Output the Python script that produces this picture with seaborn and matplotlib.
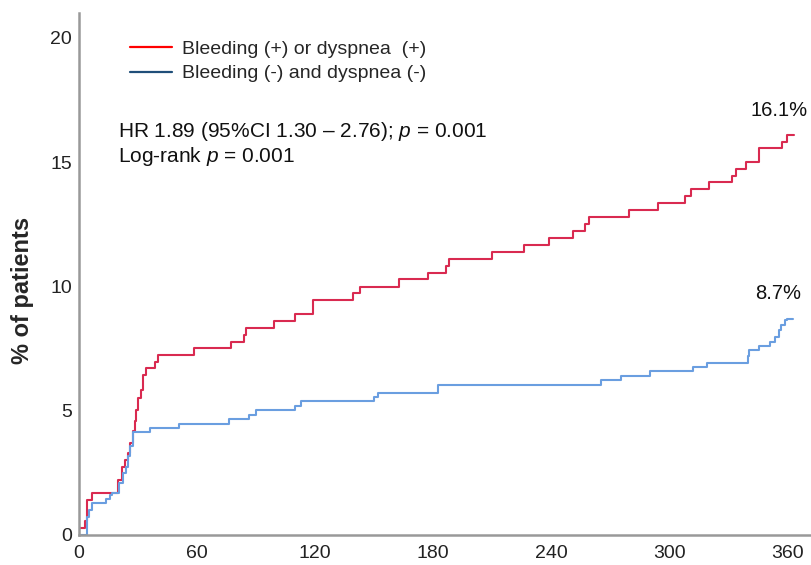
import pandas as pd
import matplotlib.pyplot as plt
import seaborn as sns
from matplotlib.lines import Line2D

sns.set_theme(style="white")
plt.rcParams['font.family'] = ['Liberation Sans', 'DejaVu Sans']
plt.rcParams['mathtext.fontset'] = 'custom'
plt.rcParams['mathtext.rm'] = 'Liberation Sans'
plt.rcParams['mathtext.it'] = 'Liberation Sans:italic'

# cumulative incidence curves (days, %)
red_days = [0, 3, 4.2, 6.8, 19.6, 21.7, 23.4, 24.8, 26, 27.6, 28.4, 29, 29.8, 31.5,
            32.6, 34.3, 38.6, 40, 58.5, 77.5, 84, 85, 99, 110, 119, 139, 143, 162.4,
            177.3, 186.3, 188, 210, 226, 238.6, 251, 257.4, 259.4, 279.4, 294.4, 308,
            311, 320, 332, 333.9, 339, 345.7, 357.5, 360, 363.5]
red_pct = [0.3, 0.56, 1.4, 1.7, 2.2, 2.75, 3.0, 3.3, 3.7, 4.17, 4.6, 5.04, 5.5, 5.85,
           6.45, 6.7, 6.95, 7.26, 7.53, 7.76, 8.05, 8.33, 8.6, 8.87, 9.45, 9.72, 9.99, 10.28,
           10.55, 10.82, 11.1, 11.4, 11.68, 11.95, 12.22, 12.49, 12.8, 13.08, 13.35, 13.62,
           13.9, 14.18, 14.45, 14.72, 15.01, 15.55, 15.82, 16.1, 16.1]

blue_days = [0, 4.2, 5.2, 6.4, 13.5, 15.7, 16.9, 20.5, 22.2, 23.9, 25, 25.9, 27.6, 36,
             50.8, 76.3, 86.4, 90.2, 110, 112.7, 149.7, 152, 182.4, 265.3, 275.5, 290.4,
             312, 319, 339.8, 340.5, 345.7, 351, 353.8, 355.5, 357, 358.9, 360, 363]
blue_pct = [0, 0.74, 1.0, 1.3, 1.44, 1.61, 1.7, 2.08, 2.49, 2.75, 3.16, 3.56, 4.15, 4.3,
            4.48, 4.66, 4.84, 5.01, 5.2, 5.38, 5.54, 5.71, 6.05, 6.22, 6.41, 6.59,
            6.75, 6.92, 7.22, 7.43, 7.59, 7.75, 7.97, 8.23, 8.43, 8.64, 8.7, 8.7]

groups = ['Bleeding (+) or dyspnea  (+)', 'Bleeding (-) and dyspnea (-)']
final_labels = ['16.1%', '8.7%']
x_ticks = [0, 60, 120, 180, 240, 300, 360]
y_ticks = [0, 5, 10, 15, 20]

df = pd.concat([
    pd.DataFrame({'day': red_days, 'pct': red_pct, 'group': groups[0]}),
    pd.DataFrame({'day': blue_days, 'pct': blue_pct, 'group': groups[1]}),
], ignore_index=True)

fig = plt.figure(figsize=(8.11, 5.65), dpi=100)
ax = fig.add_axes([0.0974, 0.0531, 0.9026, 0.924])

sns.lineplot(data=df, x='day', y='pct', hue='group', estimator=None,
             palette={groups[0]: '#d92a50', groups[1]: '#6a9ee0'},
             drawstyle='steps-post', linewidth=1.5, legend=False, ax=ax)

ax.set_xlim(0, 372)
ax.set_ylim(0, 21)
ax.set_xticks(x_ticks)
ax.set_yticks(y_ticks)
ax.tick_params(axis='both', length=0, labelsize=14, colors='#222222', pad=5)
ax.tick_params(axis='x', pad=7)
ax.set_xlabel('')
ax.set_ylabel('% of patients', fontsize=17, fontweight='bold')
ax.yaxis.set_label_coords(-0.061, 0.469)

for s in ['top', 'right']:
    ax.spines[s].set_visible(False)
for s in ['left', 'bottom']:
    ax.spines[s].set_color('#999999')
    ax.spines[s].set_linewidth(1.8)

handles = [Line2D([], [], color='#ff0000', lw=1.6),
           Line2D([], [], color='#1f4e79', lw=1.6)]
ax.legend(handles, groups, loc='upper left', bbox_to_anchor=(0.0697, 0.948),
          frameon=False, fontsize=14, borderpad=0, borderaxespad=0,
          handlelength=2.15, handletextpad=0.5, labelspacing=0.36)

ax.text(19.8, 16.25, r'HR 1.89 (95%CI 1.30 – 2.76); $p$ = 0.001',
        fontsize=15, va='center', ha='left', color='#111111')
ax.text(19.8, 15.22, r'Log-rank $p$ = 0.001',
        fontsize=15, va='center', ha='left', color='#111111')

ax.text(356, 17.06, final_labels[0], fontsize=14.5, ha='center', va='center', color='#111111')
ax.text(355.5, 9.7, final_labels[1], fontsize=14.5, ha='center', va='center', color='#111111')

fig.savefig('out.png', dpi=100)
